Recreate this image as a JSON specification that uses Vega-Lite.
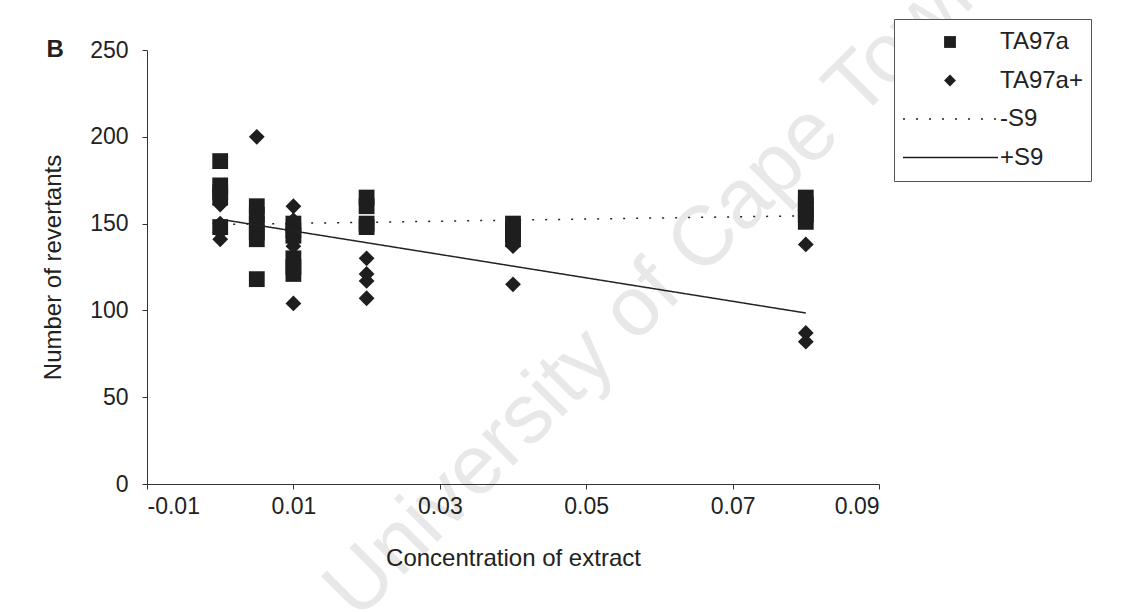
{
  "$schema": "https://vega.github.io/schema/vega-lite/v6.json",
  "width": 732,
  "height": 434,
  "autosize": {"type": "none"},
  "padding": {"left": 147, "top": 50, "right": 268, "bottom": 128},
  "background": "white",
  "title": {
    "text": "B",
    "orient": "left",
    "anchor": "end",
    "frame": "group",
    "angle": 0,
    "align": "center",
    "baseline": "middle",
    "offset": 0,
    "dx": 31,
    "dy": 0,
    "font": "Liberation Sans",
    "fontSize": 24,
    "fontWeight": "bold",
    "color": "#222222"
  },
  "datasets": {
    "counts": [
      {"conc": 0, "rev": 186, "strain": "TA97a"},
      {"conc": 0, "rev": 172, "strain": "TA97a"},
      {"conc": 0, "rev": 168, "strain": "TA97a"},
      {"conc": 0, "rev": 165, "strain": "TA97a"},
      {"conc": 0, "rev": 148, "strain": "TA97a"},
      {"conc": 0.005, "rev": 160, "strain": "TA97a"},
      {"conc": 0.005, "rev": 155, "strain": "TA97a"},
      {"conc": 0.005, "rev": 150, "strain": "TA97a"},
      {"conc": 0.005, "rev": 145, "strain": "TA97a"},
      {"conc": 0.005, "rev": 141, "strain": "TA97a"},
      {"conc": 0.005, "rev": 118, "strain": "TA97a"},
      {"conc": 0.01, "rev": 150, "strain": "TA97a"},
      {"conc": 0.01, "rev": 146, "strain": "TA97a"},
      {"conc": 0.01, "rev": 143, "strain": "TA97a"},
      {"conc": 0.01, "rev": 130, "strain": "TA97a"},
      {"conc": 0.01, "rev": 125, "strain": "TA97a"},
      {"conc": 0.01, "rev": 121, "strain": "TA97a"},
      {"conc": 0.02, "rev": 165, "strain": "TA97a"},
      {"conc": 0.02, "rev": 160, "strain": "TA97a"},
      {"conc": 0.02, "rev": 150, "strain": "TA97a"},
      {"conc": 0.02, "rev": 148, "strain": "TA97a"},
      {"conc": 0.04, "rev": 150, "strain": "TA97a"},
      {"conc": 0.04, "rev": 147, "strain": "TA97a"},
      {"conc": 0.04, "rev": 144, "strain": "TA97a"},
      {"conc": 0.04, "rev": 141, "strain": "TA97a"},
      {"conc": 0.08, "rev": 165, "strain": "TA97a"},
      {"conc": 0.08, "rev": 161, "strain": "TA97a"},
      {"conc": 0.08, "rev": 158, "strain": "TA97a"},
      {"conc": 0.08, "rev": 155, "strain": "TA97a"},
      {"conc": 0.08, "rev": 151, "strain": "TA97a"},
      {"conc": 0, "rev": 161, "strain": "TA97a+"},
      {"conc": 0, "rev": 150, "strain": "TA97a+"},
      {"conc": 0, "rev": 145, "strain": "TA97a+"},
      {"conc": 0, "rev": 141, "strain": "TA97a+"},
      {"conc": 0.005, "rev": 200, "strain": "TA97a+"},
      {"conc": 0.005, "rev": 153, "strain": "TA97a+"},
      {"conc": 0.01, "rev": 160, "strain": "TA97a+"},
      {"conc": 0.01, "rev": 152, "strain": "TA97a+"},
      {"conc": 0.01, "rev": 146, "strain": "TA97a+"},
      {"conc": 0.01, "rev": 140, "strain": "TA97a+"},
      {"conc": 0.01, "rev": 137, "strain": "TA97a+"},
      {"conc": 0.01, "rev": 104, "strain": "TA97a+"},
      {"conc": 0.02, "rev": 130, "strain": "TA97a+"},
      {"conc": 0.02, "rev": 121, "strain": "TA97a+"},
      {"conc": 0.02, "rev": 117, "strain": "TA97a+"},
      {"conc": 0.02, "rev": 107, "strain": "TA97a+"},
      {"conc": 0.04, "rev": 137, "strain": "TA97a+"},
      {"conc": 0.04, "rev": 115, "strain": "TA97a+"},
      {"conc": 0.08, "rev": 138, "strain": "TA97a+"},
      {"conc": 0.08, "rev": 87, "strain": "TA97a+"},
      {"conc": 0.08, "rev": 82, "strain": "TA97a+"}
    ],
    "trends": [
      {"conc": 0, "rev": 149.5, "series": "-S9"},
      {"conc": 0.08, "rev": 154.5, "series": "-S9"},
      {"conc": 0, "rev": 152.5, "series": "+S9"},
      {"conc": 0.08, "rev": 98.5, "series": "+S9"}
    ],
    "mark": [
      {"watermark": "University of Cape Town"}
    ]
  },
  "config": {
    "view": {"stroke": null},
    "font": "Liberation Sans",
    "axis": {
      "grid": false,
      "domainColor": "#333333",
      "tickColor": "#333333",
      "labelColor": "#222222",
      "titleColor": "#222222",
      "labelFont": "Liberation Sans",
      "titleFont": "Liberation Sans",
      "labelFontSize": 23,
      "titleFontSize": 24,
      "titleFontWeight": "normal",
      "tickSize": 5,
      "tickWidth": 1,
      "domainWidth": 1
    },
    "legend": {
      "orient": "none",
      "title": null,
      "padding": 8,
      "labelFont": "Liberation Sans",
      "labelFontSize": 24,
      "labelColor": "#222222",
      "clipHeight": 30,
      "rowPadding": 8.5
    }
  },
  "layer": [
    {
      "data": {"name": "mark"},
      "mark": {
        "type": "text",
        "angle": 315,
        "fontSize": 84,
        "font": "Liberation Sans",
        "color": "#e8e8e8",
        "align": "center",
        "baseline": "middle"
      },
      "encoding": {
        "x": {"datum": 0.06, "type": "quantitative"},
        "y": {"datum": 115, "type": "quantitative"},
        "text": {"field": "watermark", "type": "nominal"}
      }
    },
    {
      "data": {"name": "counts"},
      "mark": {"type": "point", "filled": true, "size": 250, "opacity": 1, "color": "#1e1e1e"},
      "encoding": {
        "x": {
          "field": "conc",
          "type": "quantitative",
          "scale": {"domain": [-0.01, 0.09], "nice": false, "zero": false},
          "axis": {
            "zindex": 2,
            "values": [-0.01, 0.01, 0.03, 0.05, 0.07, 0.09],
            "labelExpr": "replace(format(datum.value, '.2f'), '\u2212', '-')",
            "labelPadding": 6,
            "title": "Concentration of extract",
            "titlePadding": 28
          }
        },
        "y": {
          "field": "rev",
          "type": "quantitative",
          "scale": {"domain": [0, 250], "nice": false},
          "axis": {
            "zindex": 2,
            "values": [0, 50, 100, 150, 200, 250],
            "labelPadding": 14,
            "title": "Number of revertants",
            "titlePadding": 24
          }
        },
        "shape": {
          "field": "strain",
          "type": "nominal",
          "scale": {
            "domain": ["TA97a", "TA97a+", "-S9", "+S9"],
            "range": ["square", "diamond", "stroke", "stroke"]
          },
          "legend": {
            "legendX": 747,
            "legendY": -31,
            "strokeColor": "#555555",
            "fillColor": "white",
            "symbolSize": 140,
            "symbolOffset": 36,
            "labelOffset": 38,
            "zindex": 1
          }
        }
      }
    },
    {
      "data": {"name": "trends"},
      "mark": {"type": "line", "color": "#222222", "strokeWidth": 1.5},
      "encoding": {
        "x": {"field": "conc", "type": "quantitative"},
        "y": {"field": "rev", "type": "quantitative"},
        "detail": {"field": "series", "type": "nominal"},
        "strokeDash": {
          "field": "series",
          "type": "nominal",
          "scale": {"domain": ["-S9", "+S9"], "range": [[2, 11], [1, 0]]},
          "legend": {
            "legendX": 747,
            "legendY": 46,
            "symbolType": "stroke",
            "symbolSize": 9025,
            "symbolStrokeColor": "#1e1e1e",
            "symbolStrokeWidth": 1.5,
            "labelExpr": "''",
            "labelOffset": 1,
            "zindex": 2
          }
        }
      }
    }
  ]
}
